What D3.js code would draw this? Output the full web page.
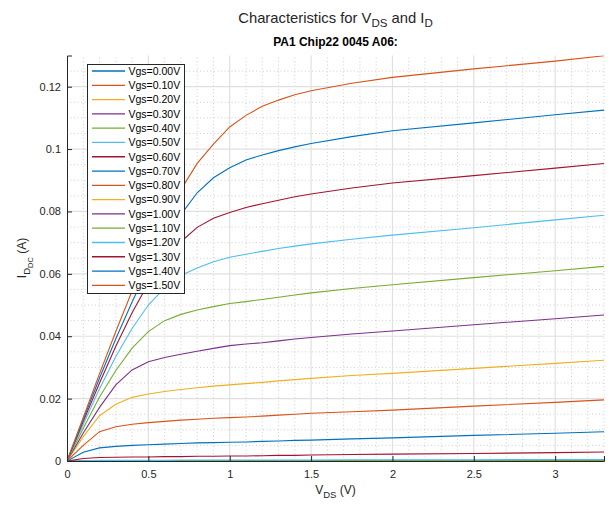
<!DOCTYPE html>
<html>
<head>
<meta charset="utf-8">
<script src="https://cdn.jsdelivr.net/npm/d3@7"></script>
<style>
  body { margin: 0; background: #fff; }
  svg { display: block; font-family: "Liberation Sans", Arial, Helvetica, sans-serif; }
</style>
</head>
<body>
<svg width="611" height="507"></svg>
<script>
const vds = [0, 0.1, 0.2, 0.3, 0.4, 0.5, 0.6, 0.7, 0.8, 0.9, 1.0, 1.1, 1.2, 1.3, 1.4, 1.5, 1.75, 2.0, 2.5, 3.0, 3.3]

const vgsLabels = ['0.00', '0.10', '0.20', '0.30', '0.40', '0.50', '0.60', '0.70',
    '0.80', '0.90', '1.00', '1.10', '1.20', '1.30', '1.40', '1.50']

// drain current (A) for each Vgs at the vds points
const id000 = [0, 0, 0, 0, 0, 0, 0, 0, 0, 0, 0, 0, 0, 0, 0, 0, 0, 0, 0, 0, 0]
const id010 = [0, 0, 0, 0, 0, 0, 0, 0, 0, 0, 0, 0, 0, 0, 0, 0, 0, 0, 0, 0, 0]
const id020 = [0, 0, 0, 0, 0, 0, 0, 0, 0, 0, 0, 0, 0, 0, 0, 0, 0, 0, 0, 0, 0]
const id030 = [0, 0, 0, 0, 0, 0, 0, 0, 0, 0, 0, 0, 0, 0, 0, 0.00001, 0.00001, 0.00001, 0.00001, 0.00001, 0.00002]
const id040 = [0, 0.00002, 0.00003, 0.00004, 0.00004, 0.00004, 0.00005, 0.00005, 0.00005, 0.00005, 0.00005, 0.00005, 0.00006, 0.00006, 0.00006, 0.00006, 0.00007, 0.00007, 0.00008, 0.00009, 0.0001]
const id050 = [0, 0.0001, 0.0002, 0.0002, 0.0002, 0.0002, 0.0002, 0.0003, 0.0003, 0.0003, 0.0003, 0.0003, 0.0003, 0.0003, 0.0003, 0.0003, 0.0004, 0.0004, 0.0004, 0.0005, 0.0005]
const id060 = [0, 0.0008, 0.0011, 0.0012, 0.0013, 0.0013, 0.0014, 0.0014, 0.0015, 0.0015, 0.0016, 0.0016, 0.0017, 0.0018, 0.0018, 0.0019, 0.0021, 0.0022, 0.0024, 0.0027, 0.0029]
const id070 = [0, 0.0028, 0.0042, 0.0047, 0.0050, 0.0052, 0.0054, 0.0056, 0.0058, 0.0059, 0.0060, 0.0061, 0.0063, 0.0064, 0.0066, 0.0067, 0.0071, 0.0074, 0.0082, 0.0089, 0.0094]
const id080 = [0, 0.0050, 0.0094, 0.0110, 0.0118, 0.0123, 0.0127, 0.0131, 0.0134, 0.0137, 0.0139, 0.0141, 0.0144, 0.0147, 0.0150, 0.0153, 0.0158, 0.0163, 0.0176, 0.0188, 0.0196]
const id090 = [0, 0.0078, 0.0145, 0.0182, 0.0204, 0.0215, 0.0223, 0.0229, 0.0235, 0.0240, 0.0244, 0.0248, 0.0252, 0.0257, 0.0261, 0.0265, 0.0274, 0.0281, 0.0297, 0.0313, 0.0323]
const id100 = [0, 0.0090, 0.0172, 0.0244, 0.0292, 0.0318, 0.0332, 0.0342, 0.0352, 0.0361, 0.0370, 0.0375, 0.0379, 0.0385, 0.0391, 0.0396, 0.0407, 0.0417, 0.0437, 0.0456, 0.0468]
const id110 = [0, 0.0105, 0.0205, 0.0290, 0.0362, 0.0415, 0.0450, 0.0470, 0.0484, 0.0495, 0.0505, 0.0511, 0.0518, 0.0525, 0.0532, 0.0539, 0.0553, 0.0565, 0.0588, 0.0610, 0.0624]
const id120 = [0, 0.0118, 0.0232, 0.0335, 0.0425, 0.0500, 0.0555, 0.0595, 0.0619, 0.0639, 0.0653, 0.0663, 0.0672, 0.0681, 0.0689, 0.0696, 0.0711, 0.0724, 0.0748, 0.0773, 0.0788]
const id130 = [0, 0.0127, 0.0250, 0.0368, 0.0475, 0.0570, 0.0650, 0.0703, 0.0749, 0.0778, 0.0797, 0.0813, 0.0825, 0.0836, 0.0847, 0.0856, 0.0875, 0.0891, 0.0915, 0.0939, 0.0954]
const id140 = [0, 0.0134, 0.0266, 0.0392, 0.0510, 0.0620, 0.0715, 0.0790, 0.0860, 0.0908, 0.0940, 0.0965, 0.0981, 0.0995, 0.1007, 0.1018, 0.1040, 0.1059, 0.1084, 0.1110, 0.1125]
const id150 = [0, 0.0140, 0.0280, 0.0415, 0.0545, 0.0665, 0.0775, 0.0870, 0.0954, 0.1016, 0.1071, 0.1108, 0.1137, 0.1157, 0.1174, 0.1187, 0.1211, 0.1230, 0.1257, 0.1282, 0.1299]

const currents = [id000, id010, id020, id030, id040, id050, id060, id070,
    id080, id090, id100, id110, id120, id130, id140, id150]

const xTicks = [0, 0.5, 1, 1.5, 2, 2.5, 3]
const yTicks = [0, 0.02, 0.04, 0.06, 0.08, 0.1, 0.12]

// matlab default line colours
const colors = ['#0072BD', '#D95319', '#EDB120', '#7E2F8E', '#77AC30', '#4DBEEE', '#A2142F']

const margin = { left: 67, right: 7, top: 55.5, bottom: 46 }
const width = 611
const height = 507
const textColor = '#262626'

const x = d3.scaleLinear().domain([0, 3.3]).range([margin.left, width - margin.right])
const y = d3.scaleLinear().domain([0, 0.13]).range([height - margin.bottom, margin.top])

const svg = d3.select('svg')

svg.append('clipPath').attr('id', 'plot')
    .append('rect')
    .attr('x', x(0)).attr('y', y(0.13))
    .attr('width', x(3.3) - x(0)).attr('height', y(0) - y(0.13))

// minor grid (dotted)
const grid = svg.append('g')
const xMinor = d3.range(1, 34).map(i => i / 10).filter(v => Math.abs(v * 2 - Math.round(v * 2)) > 1e-6)
const yMinor = d3.range(1, 26).map(i => i * 0.005).filter(v => Math.abs(v / 0.02 - Math.round(v / 0.02)) > 1e-6)

grid.selectAll('line.xminor').data(xMinor).join('line')
    .attr('x1', d => x(d)).attr('x2', d => x(d))
    .attr('y1', y(0)).attr('y2', y(0.13))
    .attr('stroke', '#c4c4c4').attr('stroke-width', 0.8)
    .attr('stroke-dasharray', '1,2.5')

grid.selectAll('line.yminor').data(yMinor).join('line')
    .attr('y1', d => y(d)).attr('y2', d => y(d))
    .attr('x1', x(0)).attr('x2', x(3.3))
    .attr('stroke', '#c4c4c4').attr('stroke-width', 0.8)
    .attr('stroke-dasharray', '1,2.5')

// major grid
grid.selectAll('line.xmajor').data(xTicks.slice(1)).join('line')
    .attr('x1', d => x(d)).attr('x2', d => x(d))
    .attr('y1', y(0)).attr('y2', y(0.13))
    .attr('stroke', '#e0e0e0').attr('stroke-width', 1.2)

grid.selectAll('line.ymajor').data(yTicks.slice(1)).join('line')
    .attr('y1', d => y(d)).attr('y2', d => y(d))
    .attr('x1', x(0)).attr('x2', x(3.3))
    .attr('stroke', '#e0e0e0').attr('stroke-width', 1.2)

// curves
const line = d3.line()
    .x((d, i) => x(vds[i]))
    .y(d => y(d))

svg.append('g')
    .attr('clip-path', 'url(#plot)')
    .selectAll('path')
    .data(currents)
    .join('path')
    .attr('fill', 'none')
    .attr('stroke', (d, i) => colors[i % colors.length])
    .attr('stroke-width', 1.1)
    .attr('d', d => line(d))

// axes, ticks inward like matlab
const xAxis = svg.append('g')
    .attr('transform', `translate(0,${y(0)})`)
    .call(d3.axisBottom(x).tickValues(xTicks).tickSize(-5).tickPadding(9).tickFormat(d3.format('')))
const yAxis = svg.append('g')
    .attr('transform', `translate(${x(0)},0)`)
    .call(d3.axisLeft(y).tickValues(yTicks).tickSize(-5).tickPadding(6).tickFormat(d3.format('')))

for (const ax of [xAxis, yAxis]) {
    ax.select('.domain').attr('stroke', textColor).attr('stroke-width', 1)
    ax.selectAll('.tick line').attr('stroke', textColor)
    ax.selectAll('.tick text').attr('fill', textColor).attr('font-size', 11)
        .attr('font-family', '"Liberation Sans", Arial, sans-serif')
}

// titles
const title = svg.append('text')
    .attr('x', 335.5).attr('y', 23)
    .attr('text-anchor', 'middle')
    .attr('fill', textColor).attr('font-size', 14.8)
title.append('tspan').text('Characteristics for V')
title.append('tspan').attr('dy', 4).attr('font-size', 11.5).text('DS')
title.append('tspan').attr('dy', -4).text(' and I')
title.append('tspan').attr('dy', 4).attr('font-size', 11.5).text('D')

svg.append('text')
    .attr('x', 335.5).attr('y', 46)
    .attr('text-anchor', 'middle')
    .attr('fill', 'black').attr('font-size', 12).attr('font-weight', 'bold')
    .text('PA1 Chip22 0045 A06:')

const xLabel = svg.append('text')
    .attr('x', 335.5).attr('y', 494)
    .attr('text-anchor', 'middle')
    .attr('fill', textColor).attr('font-size', 12)
xLabel.append('tspan').text('V')
xLabel.append('tspan').attr('dy', 4).attr('font-size', 9.5).text('DS')
xLabel.append('tspan').attr('dy', -4).text(' (V)')

const yLabel = svg.append('text')
    .attr('transform', 'translate(26,258) rotate(-90)')
    .attr('text-anchor', 'middle')
    .attr('fill', textColor).attr('font-size', 12)
yLabel.append('tspan').text('I')
yLabel.append('tspan').attr('dy', 4).attr('font-size', 9.5).text('D')
yLabel.append('tspan').attr('dy', 3).attr('font-size', 7.5).text('DC')
yLabel.append('tspan').attr('dy', -7).text(' (A)')

// legend
const legend = svg.append('g').attr('transform', 'translate(87.5,64.5)')
legend.append('rect')
    .attr('width', 97).attr('height', 229)
    .attr('fill', 'white').attr('stroke', textColor).attr('stroke-width', 1)

const entry = legend.selectAll('g.entry')
    .data(vgsLabels)
    .join('g')
    .attr('transform', (d, i) => `translate(0,${6.5 + i * 14.29})`)
entry.append('line')
    .attr('x1', 4.5).attr('x2', 37.5)
    .attr('stroke', (d, i) => colors[i % colors.length])
    .attr('stroke-width', 1.3)
entry.append('text')
    .attr('x', 41).attr('y', 3.8)
    .attr('fill', 'black').attr('font-size', 10.5)
    .text(d => `Vgs=${d}V`)
</script>
</body>
</html>
